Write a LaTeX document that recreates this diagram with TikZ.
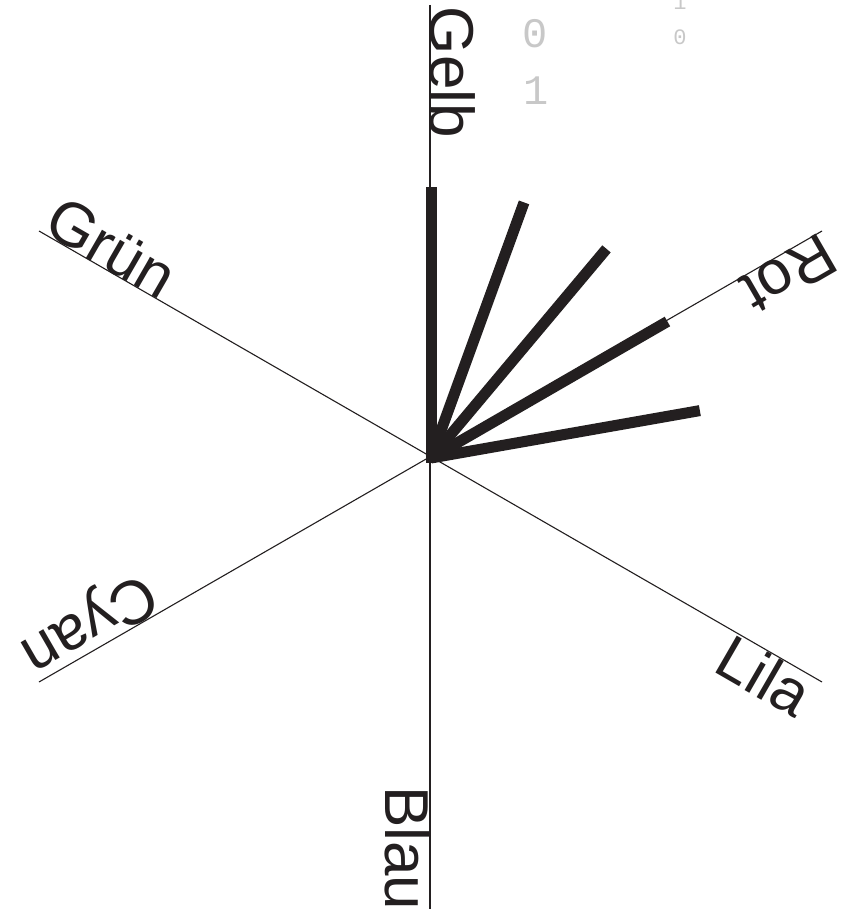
\documentclass[tikz,border=0pt]{standalone}
\usepackage{fontspec}
\setmainfont{Liberation Sans}
\newfontfamily\digitfont{Liberation Mono}
\usetikzlibrary{calc}
\definecolor{ink}{HTML}{231F20}
\definecolor{ghost}{HTML}{C8C8C8}
\tikzset{
  axis/.style={draw=ink, line width=1.1pt},
  spoke/.style={draw=ink, line width=11pt, line cap=butt},
  lab/.style={inner sep=0pt, outer sep=0pt, text=ink, font=\fontsize{62}{62}\selectfont},
  ghostbig/.style={inner sep=0pt, outer sep=0pt, text=ghost, anchor=base, font=\digitfont\fontsize{42}{42}\selectfont},
  ghostsmall/.style={inner sep=0pt, outer sep=0pt, text=ghost, anchor=base, font=\digitfont\fontsize{22}{22}\selectfont}
}
\begin{document}
\begin{tikzpicture}[x=1pt,y=-1pt]
\useasboundingbox (0,0) rectangle (843,909);
\fill[white] (0,0) rectangle (843,909);
% axis end points
\coordinate (gelbE) at (430,5);
\coordinate (blauE) at (430,909);
\coordinate (gruenE) at (39,231);
\coordinate (lilaE) at (822,682);
\coordinate (cyanE) at (39,682);
\coordinate (rotE) at (822,231);
\draw[axis] (gelbE) -- (blauE);
\draw[axis] (gruenE) -- (lilaE);
\draw[axis] (cyanE) -- (rotE);
% spokes
\coordinate (O) at (431,458);
\coordinate (s1) at ($(O)+(-90:271)$);
\coordinate (s2) at ($(O)+(-70:272)$);
\coordinate (s3) at ($(O)+(-50:273)$);
\coordinate (s4) at ($(O)+(-30:273)$);
\coordinate (s5) at ($(O)+(-10:273)$);
\draw[spoke] (O) -- (s1);
\draw[spoke] (O) -- (s2);
\draw[spoke] (O) -- (s3);
\draw[spoke] (O) -- (s4);
\draw[spoke] (O) -- (s5);
\fill[ink] ($(O)+(-5,-4)$) rectangle ($(O)+(4,5)$);
% labels
\node[lab, rotate=-90, anchor=base west] (gelb) at (430,7) {Gelb};
\node[lab, rotate=-90, anchor=north west] (blau) at (430,786) {Blau};
\node[lab, rotate=-30, anchor=base west] (gruen) at (41,232) {Grün};
\node[lab, rotate=-30, anchor=north west] (lila) at (734,632) {Lila};
\node[lab, rotate=-150, anchor=base west] (rot) at (820,232) {Rot};
\node[lab, rotate=-150, anchor=north east] (cyan) at (39,682) {Cyan};
% faint digits
\node[ghostbig] (g0) at (535,48) {0};
\node[ghostbig] (g1) at (536,105) {1};
\node[ghostsmall] (g2) at (680,45) {0};
\node[ghostsmall] (g3) at (680,10) {1};
\end{tikzpicture}
\end{document}
